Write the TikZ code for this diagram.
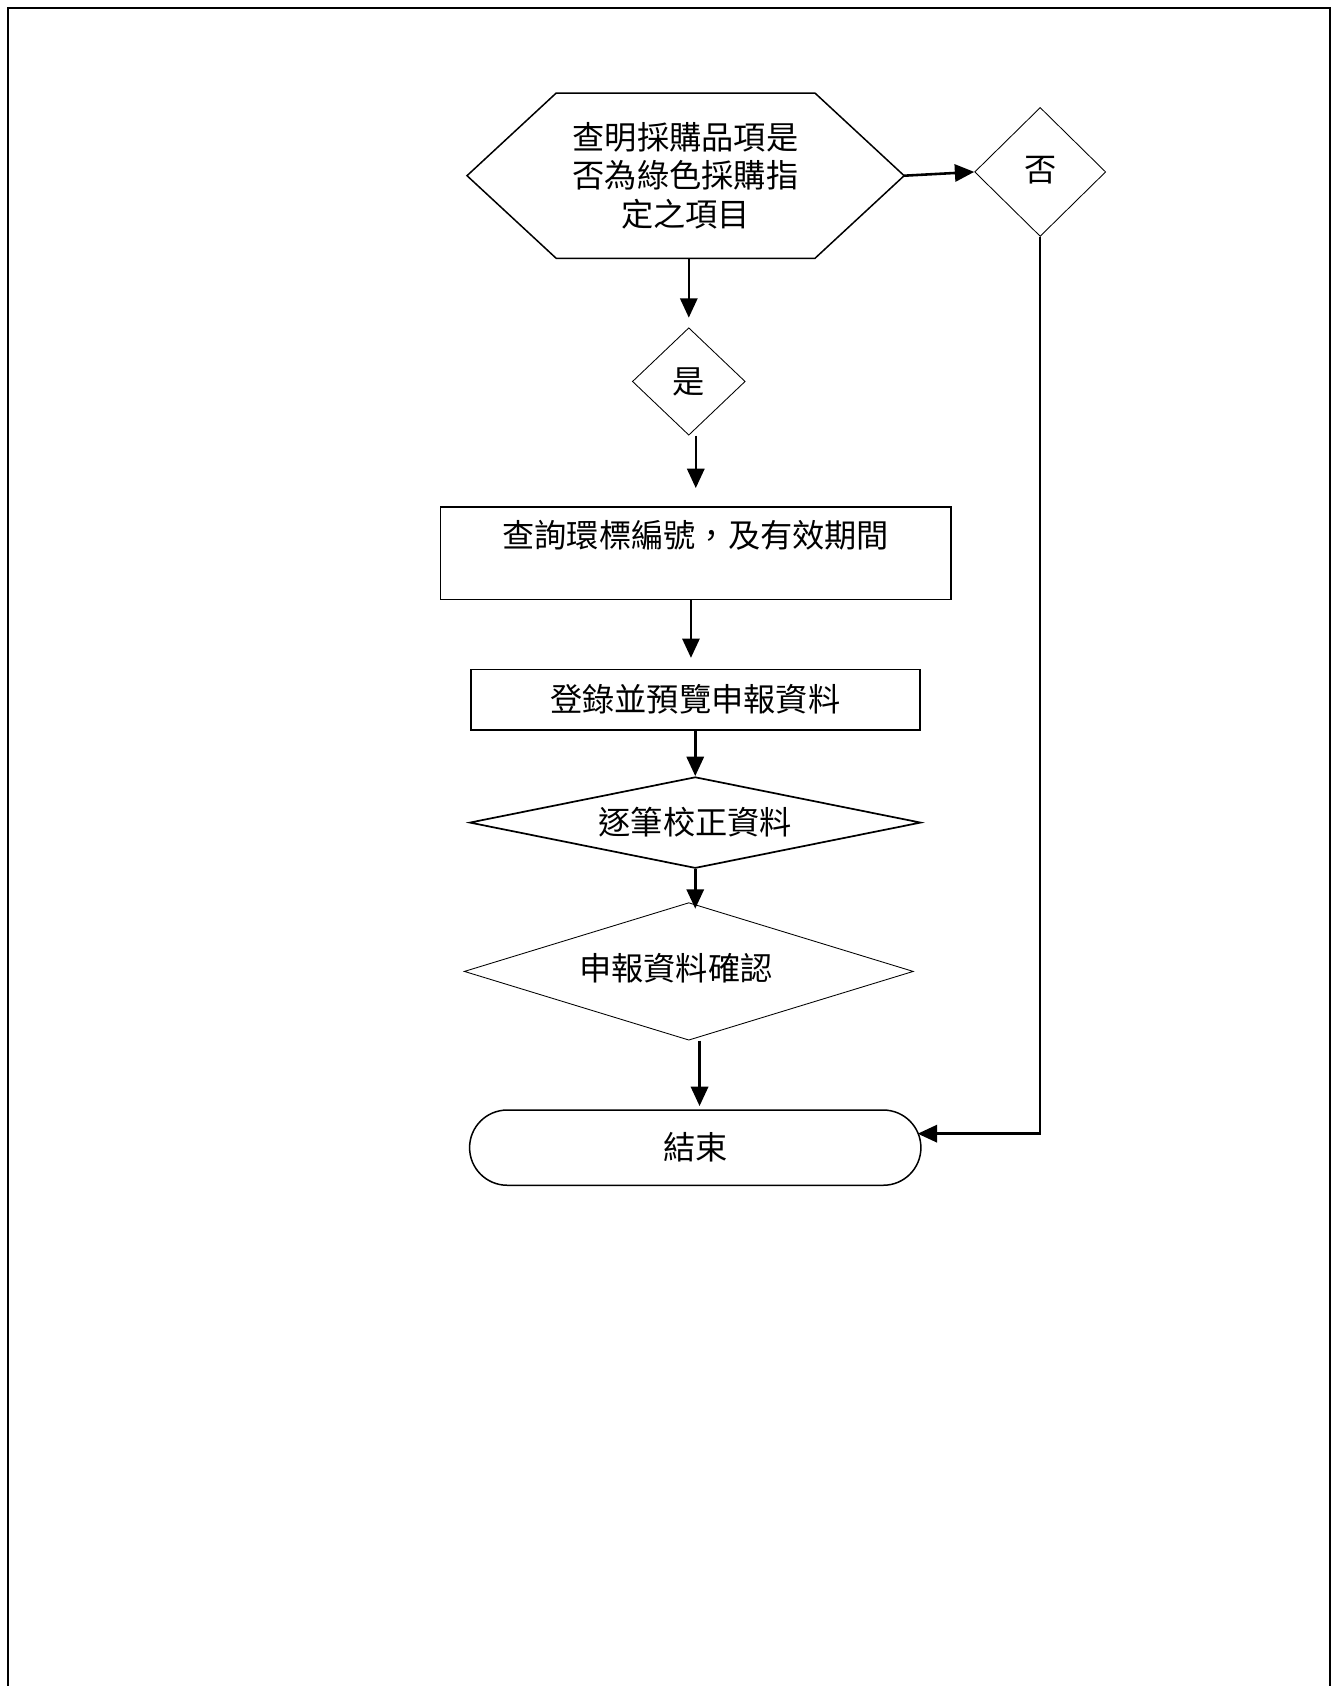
\documentclass[tikz,border=0pt]{standalone}
\usepackage{fontspec}
\newfontfamily\cjk{Noto Sans CJK TC}
\usepackage{tikz}
\usetikzlibrary{shapes.geometric, shapes.misc, arrows.meta}

\begin{document}
\begin{tikzpicture}[x=0.5pt, y=-0.5pt,
      txt/.style={font=\cjk\fontsize{15pt}{18pt}\selectfont, align=center},
      hexbox/.style={txt, inner sep=0pt, minimum width=203pt, minimum height=76.5pt},
      procbox/.style={txt, draw, line width=0.8pt, inner sep=0pt},
      decide/.style={txt, draw, diamond, inner sep=0pt},
      termbox/.style={txt, draw, rounded rectangle, line width=0.7pt, inner sep=0pt,
        minimum width=210pt, minimum height=35pt},
      arr/.style={-{Triangle[length=9pt,width=8pt]}, line width=1.2pt}]
      \useasboundingbox (0,0) rectangle (1245,1569);
      \draw[line width=1pt] (7.5,1580) -- (7.5,7.5) -- (1238,7.5) -- (1238,1580);
      % nodes
      \node[hexbox] (hex) at (638,163.5) {查明採購品項是\\否為綠色採購指\\定之項目};
      \draw[line width=0.7pt] (hex.west) -- ([xshift=41.5pt]hex.north west)
        -- ([xshift=-41.5pt]hex.north east) -- (hex.east)
        -- ([xshift=-41.5pt]hex.south east) -- ([xshift=41.5pt]hex.south west) -- cycle;
      \node[decide, minimum width=61pt, minimum height=60pt] (no) at (968,160) {\raisebox{3pt}{否}};
      \node[decide, minimum width=52.5pt, minimum height=50pt] (yes) at (641,355) {是};
      \node[procbox, minimum width=237.5pt, minimum height=43pt] (query) at (647.5,515) {查詢環標編號，及有效期間\\\mbox{}};
      \node[procbox, minimum width=209pt, minimum height=28pt] (login) at (647,651) {登錄並預覽申報資料};
      \node[decide, aspect=4.94, line width=0.8pt, minimum width=210pt, minimum height=42.5pt] (check) at (647,765.5) {\raisebox{-2pt}{逐筆校正資料}};
      \node[decide, aspect=3.27, minimum width=209pt, minimum height=64pt] (confirm) at (641,904) {\raisebox{4pt}{申報資料確認}\hspace{12pt}};
      \node[termbox] (stop) at (647,1068) {結束};
      \coordinate (back) at (854,1055);
      % connectors
      \draw[arr] (hex.east) -- (no.west);
      \draw[arr, shorten >=4.5pt] (hex.south -| yes.north) -- (yes.north);
      \draw[arr, shorten >=8.5pt] (yes.south -| query.north) -- (query.north);
      \draw[arr, shorten >=5pt] (query.south -| 643,0) -- (login.north -| 643,0);
      \draw[arr] (login.south) -- (check.north);
      \draw[arr, shorten >=-3pt] (check.south) -- (check.south |- confirm.north);
      \draw[arr, shorten >=1.5pt] (confirm.south -| 651,0) -- (stop.north -| 651,0);
      \draw[arr] (no.south) |- (back);
\end{tikzpicture}
\end{document}
